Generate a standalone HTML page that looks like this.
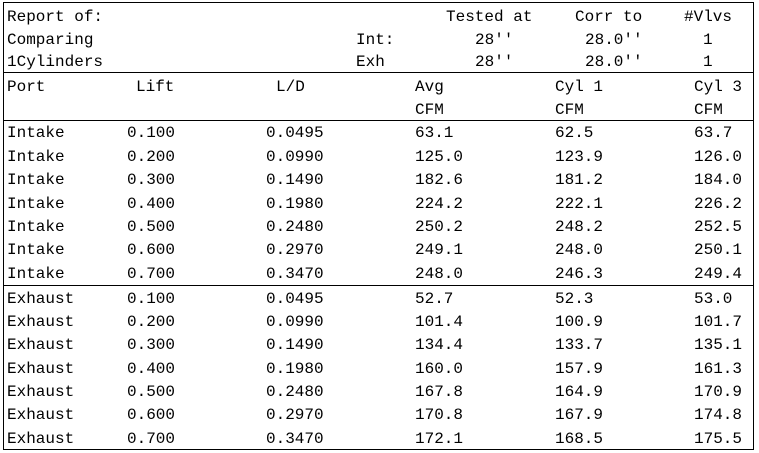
<!DOCTYPE html>
<html><head><meta charset="utf-8"><style>
body{margin:0;width:759px;height:453px;background:#fff;position:relative;overflow:hidden;font-family:"Liberation Mono","Noto Serif CJK SC",monospace;font-size:16px;color:#000}
div.t{position:absolute;line-height:20px;white-space:pre}
.b{position:absolute;background:#000}
</style></head><body>
<div class="b" style="left:3px;top:2px;width:751px;height:1px"></div>
<div class="b" style="left:3px;top:449px;width:751px;height:1px"></div>
<div class="b" style="left:3px;top:2px;width:1px;height:448px"></div>
<div class="b" style="left:753px;top:2px;width:1px;height:448px"></div>
<div class="b" style="left:3px;top:72px;width:751px;height:1px"></div>
<div class="b" style="left:3px;top:120px;width:751px;height:1px"></div>
<div class="b" style="left:3px;top:285px;width:751px;height:1px"></div>

<div class="t" style="left:7px;top:7px">Report of:</div>
<div class="t" style="left:7px;top:30px">Comparing</div>
<div class="t" style="left:7px;top:52px">1Cylinders</div>
<div class="t" style="left:356px;top:30px">Int:</div>
<div class="t" style="left:356px;top:52px">Exh</div>
<div class="t" style="left:446px;top:7px">Tested at</div>
<div class="t" style="left:475px;top:30px">28''</div>
<div class="t" style="left:475px;top:52px">28''</div>
<div class="t" style="left:575px;top:7px">Corr to</div>
<div class="t" style="left:585px;top:30px">28.0''</div>
<div class="t" style="left:585px;top:52px">28.0''</div>
<div class="t" style="left:684px;top:7px">#Vlvs</div>
<div class="t" style="left:703px;top:30px">1</div>
<div class="t" style="left:703px;top:52px">1</div>

<div class="t" style="left:7px;top:77px">Port</div>
<div class="t" style="left:136px;top:77px">Lift</div>
<div class="t" style="left:276px;top:77px">L/D</div>
<div class="t" style="left:415px;top:77px">Avg</div>
<div class="t" style="left:415px;top:100px">CFM</div>
<div class="t" style="left:555px;top:77px">Cyl 1</div>
<div class="t" style="left:555px;top:100px">CFM</div>
<div class="t" style="left:694px;top:77px">Cyl 3</div>
<div class="t" style="left:694px;top:100px">CFM</div>

<div class="t" style="left:7px;top:123px">Intake</div><div class="t" style="left:127px;top:123px">0.100</div><div class="t" style="left:266px;top:123px">0.0495</div><div class="t" style="left:415px;top:123px">63.1</div><div class="t" style="left:555px;top:123px">62.5</div><div class="t" style="left:694px;top:123px">63.7</div>
<div class="t" style="left:7px;top:147px">Intake</div><div class="t" style="left:127px;top:147px">0.200</div><div class="t" style="left:266px;top:147px">0.0990</div><div class="t" style="left:415px;top:147px">125.0</div><div class="t" style="left:555px;top:147px">123.9</div><div class="t" style="left:694px;top:147px">126.0</div>
<div class="t" style="left:7px;top:170px">Intake</div><div class="t" style="left:127px;top:170px">0.300</div><div class="t" style="left:266px;top:170px">0.1490</div><div class="t" style="left:415px;top:170px">182.6</div><div class="t" style="left:555px;top:170px">181.2</div><div class="t" style="left:694px;top:170px">184.0</div>
<div class="t" style="left:7px;top:194px">Intake</div><div class="t" style="left:127px;top:194px">0.400</div><div class="t" style="left:266px;top:194px">0.1980</div><div class="t" style="left:415px;top:194px">224.2</div><div class="t" style="left:555px;top:194px">222.1</div><div class="t" style="left:694px;top:194px">226.2</div>
<div class="t" style="left:7px;top:217px">Intake</div><div class="t" style="left:127px;top:217px">0.500</div><div class="t" style="left:266px;top:217px">0.2480</div><div class="t" style="left:415px;top:217px">250.2</div><div class="t" style="left:555px;top:217px">248.2</div><div class="t" style="left:694px;top:217px">252.5</div>
<div class="t" style="left:7px;top:240px">Intake</div><div class="t" style="left:127px;top:240px">0.600</div><div class="t" style="left:266px;top:240px">0.2970</div><div class="t" style="left:415px;top:240px">249.1</div><div class="t" style="left:555px;top:240px">248.0</div><div class="t" style="left:694px;top:240px">250.1</div>
<div class="t" style="left:7px;top:264px">Intake</div><div class="t" style="left:127px;top:264px">0.700</div><div class="t" style="left:266px;top:264px">0.3470</div><div class="t" style="left:415px;top:264px">248.0</div><div class="t" style="left:555px;top:264px">246.3</div><div class="t" style="left:694px;top:264px">249.4</div>

<div class="t" style="left:7px;top:289px">Exhaust</div><div class="t" style="left:127px;top:289px">0.100</div><div class="t" style="left:266px;top:289px">0.0495</div><div class="t" style="left:415px;top:289px">52.7</div><div class="t" style="left:555px;top:289px">52.3</div><div class="t" style="left:694px;top:289px">53.0</div>
<div class="t" style="left:7px;top:312px">Exhaust</div><div class="t" style="left:127px;top:312px">0.200</div><div class="t" style="left:266px;top:312px">0.0990</div><div class="t" style="left:415px;top:312px">101.4</div><div class="t" style="left:555px;top:312px">100.9</div><div class="t" style="left:694px;top:312px">101.7</div>
<div class="t" style="left:7px;top:335px">Exhaust</div><div class="t" style="left:127px;top:335px">0.300</div><div class="t" style="left:266px;top:335px">0.1490</div><div class="t" style="left:415px;top:335px">134.4</div><div class="t" style="left:555px;top:335px">133.7</div><div class="t" style="left:694px;top:335px">135.1</div>
<div class="t" style="left:7px;top:359px">Exhaust</div><div class="t" style="left:127px;top:359px">0.400</div><div class="t" style="left:266px;top:359px">0.1980</div><div class="t" style="left:415px;top:359px">160.0</div><div class="t" style="left:555px;top:359px">157.9</div><div class="t" style="left:694px;top:359px">161.3</div>
<div class="t" style="left:7px;top:382px">Exhaust</div><div class="t" style="left:127px;top:382px">0.500</div><div class="t" style="left:266px;top:382px">0.2480</div><div class="t" style="left:415px;top:382px">167.8</div><div class="t" style="left:555px;top:382px">164.9</div><div class="t" style="left:694px;top:382px">170.9</div>
<div class="t" style="left:7px;top:405px">Exhaust</div><div class="t" style="left:127px;top:405px">0.600</div><div class="t" style="left:266px;top:405px">0.2970</div><div class="t" style="left:415px;top:405px">170.8</div><div class="t" style="left:555px;top:405px">167.9</div><div class="t" style="left:694px;top:405px">174.8</div>
<div class="t" style="left:7px;top:429px">Exhaust</div><div class="t" style="left:127px;top:429px">0.700</div><div class="t" style="left:266px;top:429px">0.3470</div><div class="t" style="left:415px;top:429px">172.1</div><div class="t" style="left:555px;top:429px">168.5</div><div class="t" style="left:694px;top:429px">175.5</div>
</body></html>
